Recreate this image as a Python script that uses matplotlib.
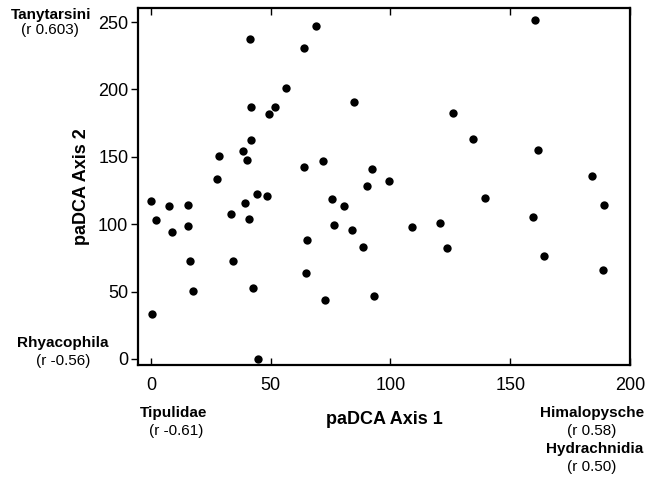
import numpy as np
import matplotlib.pyplot as plt

plt.rcParams['font.family'] = ['Liberation Sans', 'DejaVu Sans']

# ---------- Site scores ----------
axis1 = [0, 2, 7.5, 9, 15.6, 15.3, 16.4, 17.5, 0.4,
         28.5, 27.6, 33.6, 34.4, 38.5, 40, 39.4, 41, 41.2, 41.8, 41.8,
         44.3, 42.8, 44.7, 48.6, 49.3, 52, 56.4, 63.8, 68.8, 64, 65.3,
         64.9, 71.7, 72.5, 84.6, 75.4, 76.4, 80.6, 84, 88.5, 90.2, 92.4,
         93.3, 99.2, 108.9, 120.5, 123.8, 126.1, 134.5, 139.5, 160.5,
         161.4, 159.5, 164.2, 184, 189.2, 188.8]
axis2 = [117.4, 103, 113.5, 94.4, 114, 98.7, 72.7, 50.2, 33.2,
         150.6, 133.5, 107.3, 73, 154.3, 147.6, 116, 103.9, 237.5, 187, 162.5,
         122.4, 52.9, 0, 121, 182, 187, 200.8, 231, 247.3, 142.4, 88,
         64, 146.6, 43.8, 190.4, 118.5, 99.4, 113.5, 95.7, 83.3, 128.5, 141.2,
         47, 132, 98, 101.1, 82, 182.2, 163.2, 119.7, 251.2,
         155.3, 105, 76.6, 135.8, 114, 65.8]

xticks = [0, 50, 100, 150, 200]
yticks = [0, 50, 100, 150, 200, 250]

# taxa correlated with the axes: name, r label, and where they sit (figure px)
taxa = [("Tanytarsini", "(r 0.603)", 51, 15, 50, 30),
        ("Rhyacophila", "(r -0.56)", 63, 343, 63, 361),
        ("Tipulidae", "(r -0.61)", 174, 413, 176, 431),
        ("Himalopysche", "(r 0.58)", 592, 413, 592, 431),
        ("Hydrachnidia", "(r 0.50)", 595, 449, 592, 467)]

W, H = 648, 479
fig = plt.figure(figsize=(W / 100, H / 100), dpi=100)
ax = fig.add_axes([138 / W, 1 - 365 / H, (630 - 138) / W, (365 - 8) / H])

ax.scatter(axis1, axis2, s=36, color='black', zorder=3, linewidths=0)

ax.set_xlim(-5.4, 200)
ax.set_ylim(-4.5, 260.4)
ax.set_xticks(xticks)
ax.set_yticks(yticks)
ax.tick_params(axis='x', direction='in', length=5, width=1, top=True,
               labelsize=13, pad=9)
ax.tick_params(axis='y', direction='out', length=5, width=1,
               labelsize=13, pad=2)
for s in ax.spines.values():
    s.set_linewidth(1.6)

ax.set_xlabel("paDCA Axis 1", fontsize=13, fontweight='bold', labelpad=12)
ax.set_ylabel("paDCA Axis 2", fontsize=13, fontweight='bold', labelpad=6)

for name, r, xn, yn, xr, yr in taxa:
    fig.text(xn / W, 1 - yn / H, name, ha='center', va='center',
             fontsize=11, fontweight='bold')
    fig.text(xr / W, 1 - yr / H, r, ha='center', va='center', fontsize=11)

fig.savefig("out.png", dpi=100)
